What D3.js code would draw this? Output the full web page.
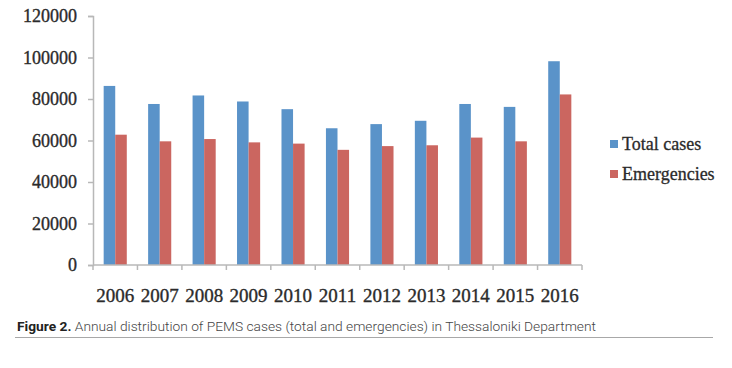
<!DOCTYPE html>
<html>
<head>
<meta charset="utf-8">
<script src="https://cdn.jsdelivr.net/npm/d3@7"></script>
<style>
  html, body { margin: 0; padding: 0; background: #fff; }
  svg { display: block; }
</style>
</head>
<body>
<svg id="chart" width="732" height="368"></svg>
<script>
const years = ["2006","2007","2008","2009","2010","2011","2012","2013","2014","2015","2016"];
const totalCases = [86300, 77600, 81700, 78800, 75100, 65900, 67900, 69500, 77600, 76200, 98200];
const emergencies = [62800, 59600, 60700, 59100, 58500, 55500, 57300, 57700, 61400, 59600, 82200];
const seriesNames = ["Total cases", "Emergencies"];
const yTicks = [0, 20000, 40000, 60000, 80000, 100000, 120000];
const captionBold = "Figure 2.";
const captionText = " Annual distribution of PEMS cases (total and emergencies) in Thessaloniki Department";

const colors = ["#5a93c9", "#cb6660"];
const svg = d3.select("#chart");
const serif = "'Liberation Serif', serif";
const textCol = "#2b2b2b";

const x0 = d3.scaleBand().domain(years).range([93, 582]).paddingInner(0.48).paddingOuter(0.24);
const x1 = d3.scaleBand().domain(seriesNames).range([0, x0.bandwidth()]);
const y = d3.scaleLinear().domain([0, 120000]).range([265, 16]);

const data = years.map((yr, i) => ({ year: yr, values: [totalCases[i], emergencies[i]] }));

// bars
const groups = svg.append("g").selectAll("g").data(data).join("g")
  .attr("transform", d => `translate(${x0(d.year)},0)`);
groups.selectAll("rect").data(d => d.values.map((v, j) => ({ v, name: seriesNames[j], j })))
  .join("rect")
  .attr("x", d => x1(d.name))
  .attr("width", x1.bandwidth())
  .attr("y", d => y(d.v))
  .attr("height", d => y(0) - y(d.v))
  .attr("fill", d => colors[d.j]);

// y axis
const yAxis = d3.axisLeft(y).tickValues(yTicks).tickSize(5).tickPadding(11).tickFormat(d3.format("d"));
const gy = svg.append("g").attr("transform", "translate(93,0)").call(yAxis);
gy.select(".domain").attr("stroke", "#b8b8b8").attr("stroke-width", 1.5);
gy.selectAll(".tick line").attr("stroke", "#b8b8b8").attr("stroke-width", 1.5);
gy.selectAll(".tick text").attr("font-family", serif).attr("font-size", 18).attr("fill", textCol)
  .attr("stroke", textCol).attr("stroke-width", 0.35);

// x axis with ticks at band boundaries
const gx = svg.append("g").attr("transform", "translate(0,265)");
gx.append("line").attr("x1", 93).attr("x2", 582).attr("y1", 0).attr("y2", 0)
  .attr("stroke", "#b8b8b8").attr("stroke-width", 1.5);
const step = x0.step();
const boundaries = d3.range(years.length + 1).map(i => x0.range()[0] + i * step);
gx.selectAll("line.tk").data(boundaries).join("line").attr("class", "tk")
  .attr("x1", d => d).attr("x2", d => d).attr("y1", 0).attr("y2", 5)
  .attr("stroke", "#b8b8b8").attr("stroke-width", 1.5);
gx.selectAll("text").data(years).join("text")
  .attr("x", d => x0(d) + x0.bandwidth() / 2)
  .attr("y", 37)
  .attr("text-anchor", "middle")
  .attr("font-family", serif)
  .attr("font-size", 19)
  .attr("fill", textCol)
  .attr("stroke", textCol).attr("stroke-width", 0.35)
  .text(d => d);

// legend
const legend = svg.append("g").selectAll("g").data(seriesNames).join("g")
  .attr("transform", (d, i) => `translate(610,${140 + i * 30})`);
legend.append("rect").attr("width", 8).attr("height", 8).attr("fill", (d, i) => colors[i]);
legend.append("text").attr("x", 12).attr("y", 10)
  .attr("font-family", serif).attr("font-size", 18).attr("fill", textCol)
  .attr("stroke", textCol).attr("stroke-width", 0.3)
  .text(d => d);

// caption
const cap = svg.append("text").attr("x", 17).attr("y", 331)
  .attr("font-family", "Roboto, 'Open Sans', sans-serif")
  .attr("font-size", 13).attr("fill", "#444")
  .attr("textLength", 579).attr("lengthAdjust", "spacingAndGlyphs");
cap.append("tspan").attr("font-weight", "bold").attr("fill", "#222").text(captionBold);
cap.append("tspan").attr("font-weight", 300).text(captionText);

svg.append("line").attr("x1", 15).attr("x2", 713).attr("y1", 337.5).attr("y2", 337.5)
  .attr("stroke", "#a8a8a8").attr("stroke-width", 1);
</script>
</body>
</html>
